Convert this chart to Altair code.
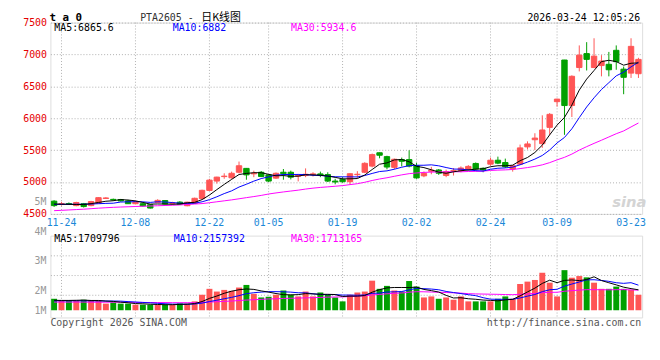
import altair as alt
import pandas as pd
import numpy as np

# ---------------- data ----------------
dates = ["11-21",
         "11-24", "11-25", "11-26", "11-27", "11-28",
         "12-01", "12-02", "12-03", "12-04", "12-05",
         "12-08", "12-09", "12-10", "12-11", "12-12",
         "12-15", "12-16", "12-17", "12-18", "12-19",
         "12-22", "12-23", "12-24", "12-25", "12-26",
         "12-29", "12-30", "12-31",
         "01-05", "01-06", "01-07", "01-08", "01-09",
         "01-12", "01-13", "01-14", "01-15", "01-16",
         "01-19", "01-20", "01-21", "01-22", "01-23",
         "01-26", "01-27", "01-28", "01-29", "01-30",
         "02-02", "02-03", "02-04", "02-05", "02-06",
         "02-09", "02-10", "02-11", "02-12", "02-13",
         "02-24", "02-25", "02-26", "02-27",
         "03-02", "03-03", "03-04", "03-05", "03-06",
         "03-09", "03-10", "03-11", "03-12", "03-13",
         "03-16", "03-17", "03-18", "03-19", "03-20",
         "03-23", "03-24"]

opens = [4700, 4650, 4662, 4630, 4660, 4630, 4665, 4742, 4728, 4725,
         4704, 4660, 4660, 4645, 4680, 4710, 4665, 4685, 4628, 4665,
         4740, 4868, 5015, 5085, 5066, 5153, 5214, 5128, 5153, 5112,
         5061, 5153, 5153, 5092, 5102, 5120, 5127, 5117, 5015, 5040,
         5005, 5115, 5153, 5250, 5459, 5398, 5230, 5352, 5352, 5255,
         5097, 5168, 5189, 5102, 5173, 5178, 5204, 5291, 5215, 5280,
         5342, 5306, 5204, 5280, 5551, 5663, 5602, 5857, 6260, 6913,
         6199, 6795, 7014, 6795, 6826, 6846, 7065, 6770, 6708, 6698]
highs = [4715, 4690, 4680, 4690, 4672, 4705, 4760, 4762, 4740, 4735,
         4720, 4700, 4670, 4650, 4730, 4715, 4690, 4700, 4690, 4755,
         4880, 5050, 5082, 5137, 5163, 5321, 5220, 5178, 5173, 5120,
         5150, 5204, 5178, 5127, 5214, 5153, 5163, 5153, 5051, 5076,
         5135, 5170, 5310, 5446, 5462, 5412, 5367, 5383, 5497, 5300,
         5165, 5238, 5204, 5194, 5220, 5245, 5265, 5306, 5230, 5383,
         5398, 5367, 5265, 5587, 5638, 5765, 6046, 6081, 6305, 6915,
         6673, 7142, 7193, 7254, 6989, 7040, 7142, 6810, 7254, 6948]
lows = [4610, 4630, 4640, 4620, 4600, 4620, 4660, 4735, 4705, 4695,
        4655, 4650, 4615, 4585, 4670, 4650, 4640, 4645, 4620, 4660,
        4730, 4860, 4975, 5051, 5051, 5137, 5036, 5076, 5076, 5000,
        5050, 5036, 5041, 5010, 5076, 5087, 5076, 5000, 4964, 4990,
        4962, 5060, 5140, 5230, 5372, 5200, 5200, 5245, 5230, 5051,
        5076, 5122, 5112, 5076, 5102, 5153, 5178, 5178, 5153, 5255,
        5280, 5220, 5163, 5265, 5510, 5500, 5536, 5740, 6183, 5740,
        6020, 6734, 6749, 6785, 6657, 6657, 6760, 6377, 6632, 6632]
closes = [4630, 4662, 4655, 4679, 4615, 4694, 4755, 4750, 4720, 4704,
          4660, 4690, 4625, 4592, 4712, 4655, 4672, 4650, 4684, 4745,
          4870, 5030, 5077, 5092, 5137, 5255, 5112, 5137, 5087, 5015,
          5137, 5130, 5076, 5102, 5122, 5127, 5102, 5015, 5000, 5005,
          5130, 5122, 5293, 5430, 5420, 5235, 5357, 5325, 5250, 5064,
          5135, 5186, 5138, 5163, 5178, 5220, 5245, 5204, 5190, 5342,
          5296, 5240, 5255, 5535, 5597, 5689, 5816, 6061, 6300, 6199,
          6658, 6990, 6923, 6974, 6897, 6760, 6887, 6642, 7127, 6923]
# volume, millions of lots
volume_m = [0.97, 0.81, 0.81, 0.81, 0.89, 0.81, 0.81, 0.56, 0.67, 0.56,
            0.56, 0.47, 0.47, 0.47, 0.47, 0.47, 0.47, 0.58, 0.56, 0.75,
            1.31, 1.81, 1.58, 1.72, 1.64, 1.92, 2.14, 1.39, 1.08, 1.14,
            1.31, 1.67, 1.31, 1.17, 1.58, 1.17, 1.50, 1.31, 1.08, 0.75,
            1.31, 1.50, 1.58, 2.50, 1.81, 2.06, 1.67, 1.58, 2.47, 2.00,
            1.08, 1.17, 0.97, 1.08, 0.89, 1.17, 0.75, 0.75, 0.75, 0.75,
            0.97, 1.17, 0.97, 2.22, 2.42, 2.56, 3.17, 2.33, 1.17, 3.39,
            2.75, 2.89, 2.78, 2.33, 1.81, 1.81, 2.00, 1.81, 1.72, 1.31]

# moving-average values at the start (window reaches before first shown day)
ma5_head = [4655, 4652, 4650, 4648]
ma10_head = [4650, 4650, 4651, 4651, 4652, 4655, 4660, 4665, 4668]
ma30_head = [4551, 4556, 4562, 4568, 4574, 4582, 4590, 4597, 4603, 4608,
             4612, 4616, 4620, 4624, 4628, 4632, 4636, 4641, 4648, 4655,
             4662, 4675, 4690, 4705, 4720, 4737, 4755, 4772, 4790]
vma5_head = [0.84, 0.83, 0.83, 0.84]
vma10_head = [0.80, 0.80, 0.80, 0.80, 0.80, 0.79, 0.79, 0.78, 0.78]
vma30_head = [0.69, 0.69, 0.69, 0.69, 0.69, 0.68, 0.68, 0.68, 0.68, 0.68,
              0.68, 0.66, 0.66, 0.65, 0.65, 0.65, 0.64, 0.64, 0.64, 0.64,
              0.66, 0.69, 0.72, 0.75, 0.78, 0.82, 0.86, 0.89, 0.92]

label_dates = ["11-24", "12-08", "12-22", "01-05", "01-19", "02-02", "02-24", "03-09", "03-23"]
grid_dates = ["11-24", "12-08", "12-22", "01-05", "01-19", "02-02", "02-24", "03-09"]
price_ticks = [4500, 5000, 5500, 6000, 6500, 7000, 7500]
vol_grid = [4.64e6, 2.97e6, 1.31e6]
vol_label_vals = [5, 4, 3, 2, 1]
vol_label_txt = ["5M", "4M", "3M", "2M", "1M"]

# ---------------- styling ----------------
MONO = "DejaVu Sans Mono"
UP = "#ff5555"
DOWN = "#00a000"
GRID = "#b0b0b0"
W = 600
HP = 194
HV = 83


def moving(values, n, head):
    r = pd.Series(values, dtype=float).rolling(n).mean()
    r.iloc[:n - 1] = head
    return r


vol = [v * 1e6 for v in volume_m]
df = pd.DataFrame({"i": range(len(dates)), "d": dates, "o": opens, "h": highs,
                   "l": lows, "c": closes, "v": vol})
df["dir"] = np.where(df["c"] >= df["o"], "up", "down")
df["ma5"] = moving(closes, 5, ma5_head)
df["ma10"] = moving(closes, 10, ma10_head)
df["ma30"] = moving(closes, 30, ma30_head)
df["vma5"] = moving(vol, 5, [v * 1e6 for v in vma5_head])
df["vma10"] = moving(vol, 10, [v * 1e6 for v in vma10_head])
df["vma30"] = moving(vol, 30, [v * 1e6 for v in vma30_head])

grid_df = pd.DataFrame({"d": grid_dates})
color = alt.Color("dir:N", scale=alt.Scale(domain=["up", "down"], range=[UP, DOWN]), legend=None)


def txt(s, x, y, col, size=10, align="left", baseline="middle", weight="normal",
        font=MONO, **kw):
    return alt.Chart(pd.DataFrame({"t": [s]})).mark_text(
        align=align, baseline=baseline, color=col, fontSize=size, font=font,
        fontWeight=weight, **kw).encode(text="t:N", x=alt.value(x), y=alt.value(y))


# ---------------- price panel ----------------
xs_p = alt.Scale(domain=dates, paddingInner=0.27, paddingOuter=0.135)
x_axis = alt.Axis(values=label_dates, title=None, ticks=False, domain=False, grid=False,
                  labelAngle=0, labelColor="#1a88d8", labelFont=MONO, labelFontSize=10,
                  labelPadding=4, labelOverlap=False)
ys_p = alt.Scale(domain=[4500, 7500], nice=False, zero=False)
y_axis = alt.Axis(values=price_ticks, title=None, ticks=False, domain=False, grid=True,
                  gridColor=GRID, gridDash=[1, 2], labelColor="#e50000", labelFont=MONO,
                  labelFontSize=10, labelPadding=4, format="d", labelOverlap=False,
                  labelBound=False)

p_vgrid = alt.Chart(grid_df).mark_rule(color=GRID, strokeDash=[1, 2], strokeWidth=1).encode(
    x=alt.X("d:O", scale=xs_p, axis=x_axis))
p_wick = alt.Chart(df).mark_rule(strokeWidth=1).encode(
    x="d:O", y=alt.Y("l:Q", scale=ys_p, axis=y_axis), y2="h:Q", color=color)
p_body = alt.Chart(df).mark_bar(strokeWidth=1).encode(
    x="d:O", y=alt.Y("o:Q", scale=ys_p, axis=y_axis), y2="c:Q", color=color,
    stroke=alt.Stroke("dir:N", scale=alt.Scale(domain=["up", "down"], range=[UP, DOWN]), legend=None))
p_ma30 = alt.Chart(df).mark_line(color="#ff00ff", strokeWidth=1).encode(
    x="d:O", y=alt.Y("ma30:Q", scale=ys_p, axis=y_axis), order="i:Q")
p_ma10 = alt.Chart(df).mark_line(color="#0000ff", strokeWidth=1).encode(
    x="d:O", y=alt.Y("ma10:Q", scale=ys_p, axis=y_axis), order="i:Q")
p_ma5 = alt.Chart(df).mark_line(color="#000000", strokeWidth=1).encode(
    x="d:O", y=alt.Y("ma5:Q", scale=ys_p, axis=y_axis), order="i:Q")

HY = -2
price = alt.layer(
    p_vgrid, p_wick, p_body, p_ma30, p_ma10, p_ma5,
    txt("sina", 587, 182, "#d4d4d4", size=15, align="center", weight="bold",
        font="DejaVu Sans", fontStyle="italic"),
    txt("MA5:6865.6", 4, 6, "#000000"),
    txt("MA10:6882", 124, 6, "#0000ff"),
    txt("MA30:5934.6", 244, 6, "#ff00ff"),
    txt("t a 0", -1, HY, "#000000", size=11, baseline="alphabetic", weight="bold"),
    txt("PTA2605 -", 91, HY, "#333333", baseline="alphabetic"),
    txt("日K线图", 153, HY, "#000000", size=11, baseline="alphabetic",
        font="Noto Sans CJK SC"),
    txt("2026-03-24 12:05:26", 598, HY, "#000000", align="right", baseline="alphabetic"),
).properties(width=W, height=HP)

# ---------------- volume panel ----------------
xs_v = alt.Scale(domain=dates, paddingInner=0.2, paddingOuter=0.1)
ys_v = alt.Scale(domain=[-0.61e6, 6.31e6], nice=False, zero=False)
v_axis = alt.Axis(values=vol_grid, labels=False, ticks=False, domain=False, grid=True,
                  gridColor=GRID, gridDash=[1, 2], title=None)

v_vgrid = alt.Chart(grid_df).mark_rule(color=GRID, strokeDash=[1, 2], strokeWidth=1).encode(
    x=alt.X("d:O", scale=xs_v, axis=None))
v_bars = alt.Chart(df).mark_bar().encode(
    x="d:O", y=alt.Y("v:Q", scale=ys_v, axis=v_axis), y2=alt.datum(0), color=color)
v_ma30 = alt.Chart(df).mark_line(color="#ff00ff", strokeWidth=1).encode(
    x="d:O", y=alt.Y("vma30:Q", scale=ys_v, axis=v_axis), order="i:Q")
v_ma10 = alt.Chart(df).mark_line(color="#0000ff", strokeWidth=1).encode(
    x="d:O", y=alt.Y("vma10:Q", scale=ys_v, axis=v_axis), order="i:Q")
v_ma5 = alt.Chart(df).mark_line(color="#000000", strokeWidth=1).encode(
    x="d:O", y=alt.Y("vma5:Q", scale=ys_v, axis=v_axis), order="i:Q")

v_main = alt.layer(
    v_vgrid, v_bars, v_ma30, v_ma10, v_ma5,
    txt("MA5:1709796", 4, 3.5, "#000000"),
    txt("MA10:2157392", 125, 3.5, "#0000ff"),
    txt("MA30:1713165", 244, 3.5, "#ff00ff"),
    txt("Copyright 2026 SINA.COM", 0, 88.5, "#555555"),
    txt("http://finance.sina.com.cn", 599, 88.5, "#555555", align="right"),
)

lab_df = pd.DataFrame({"lv": vol_label_vals, "t": vol_label_txt})
lab_scale = alt.Scale(domain=[1.1, 3.8667], nice=False, zero=False)
lab_main = alt.Chart(lab_df).transform_filter("datum.lv > 1").mark_text(
    align="right", baseline="middle", color="#999999", font=MONO, fontSize=10).encode(
    x=alt.value(-4), y=alt.Y("lv:Q", scale=lab_scale, axis=None), text="t:N")
lab_low = alt.Chart(lab_df).transform_filter("datum.lv == 1").mark_text(
    align="right", baseline="middle", color="#999999", font=MONO, fontSize=10, dy=-10).encode(
    x=alt.value(-4), y=alt.Y("lv:Q", scale=lab_scale, axis=None), text="t:N")

volume = alt.layer(v_main, alt.layer(lab_main, lab_low)).resolve_scale(
    y="independent").properties(width=W, height=HV)

chart = alt.vconcat(price, volume, spacing=22, bounds="flush").resolve_scale(
    x="independent", color="shared").properties(
    padding={"left": 14, "top": 0.5, "right": 5, "bottom": 5}
).configure_view(stroke="#999999", strokeWidth=1).configure_axis(
    labelOverlap=False).configure(background="white")

chart.save("out.html", embed_options={"renderer": "svg", "actions": False})
